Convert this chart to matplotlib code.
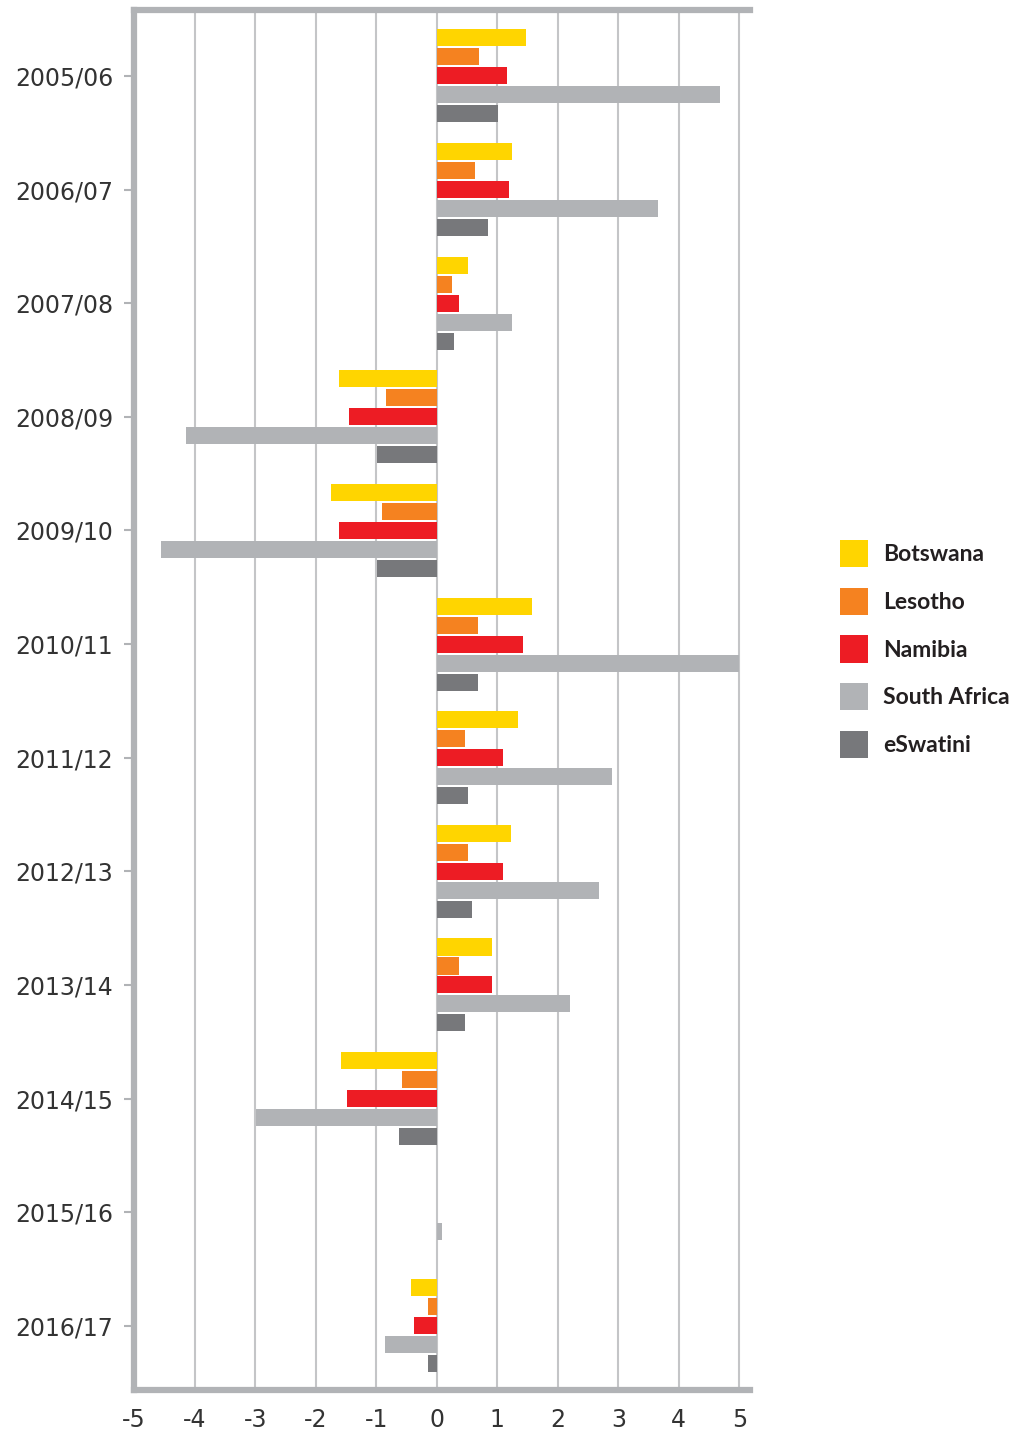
import numpy as np
import matplotlib.pyplot as plt
from matplotlib.patches import Patch

plt.rcParams["axes.unicode_minus"] = False

years = ["2005/06", "2006/07", "2007/08", "2008/09", "2009/10", "2010/11",
         "2011/12", "2012/13", "2013/14", "2014/15", "2015/16", "2016/17"]
countries = ["Botswana", "Lesotho", "Namibia", "South Africa", "eSwatini"]

botswana = [1.47, 1.25, 0.51, -1.61, -1.74, 1.58, 1.34, 1.22, 0.92, -1.58, 0.0, -0.42]
lesotho = [0.70, 0.64, 0.26, -0.83, -0.90, 0.68, 0.47, 0.51, 0.37, -0.57, 0.0, -0.14]
namibia = [1.16, 1.20, 0.37, -1.45, -1.61, 1.42, 1.09, 1.09, 0.92, -1.48, 0.0, -0.37]
south_africa = [4.68, 3.66, 1.25, -4.14, -4.56, 5.0, 2.89, 2.69, 2.20, -2.99, 0.09, -0.85]
eswatini = [1.01, 0.84, 0.29, -0.99, -0.99, 0.68, 0.51, 0.59, 0.47, -0.62, 0.0, -0.14]

series = [botswana, lesotho, namibia, south_africa, eswatini]
colors = ["#FFD500", "#F58220", "#ED1C24", "#B1B3B6", "#77787B"]
frame = "#B1B3B6"
txt = "#333333"

fig = plt.figure(figsize=(10.24, 14.31), dpi=100)
ax = fig.add_axes([0.131, 0.029, 0.601, 0.964])

y = np.arange(len(years))
step = 0.167
for i, (vals, c) in enumerate(zip(series, colors)):
    ax.barh(y + (i - 2) * step, vals, height=0.15, color=c, zorder=3)

ax.set_xlim(-5, 5.17)
ax.set_ylim(11.56, -0.58)
ax.set_xticks(range(-5, 6))
ax.set_yticks(y)
ax.set_yticklabels(years)
ax.grid(axis="x", color="#C4C5C7", linewidth=1.5, zorder=0)
ax.set_axisbelow(True)

for side in ["top", "bottom", "left"]:
    ax.spines[side].set_color(frame)
    ax.spines[side].set_linewidth(4.5)
ax.spines["right"].set_visible(False)

ax.tick_params(axis="y", length=7, width=1.5, color=frame, pad=8,
               labelsize=17, labelcolor=txt)
ax.tick_params(axis="x", length=0, pad=13, labelsize=17, labelcolor=txt)

# legend to the right of the plot
handles = [Patch(facecolor=c, label=n) for c, n in zip(colors, countries)]
fig.legend(handles=handles, loc="center left", bbox_to_anchor=(0.8, 0.5465),
           frameon=False, handlelength=1.25, handleheight=1.45,
           labelspacing=0.9, handletextpad=0.65,
           prop={"family": "Lato", "size": 16.5, "weight": "bold"},
           labelcolor="#231F20")

plt.savefig("out.png", dpi=100)
